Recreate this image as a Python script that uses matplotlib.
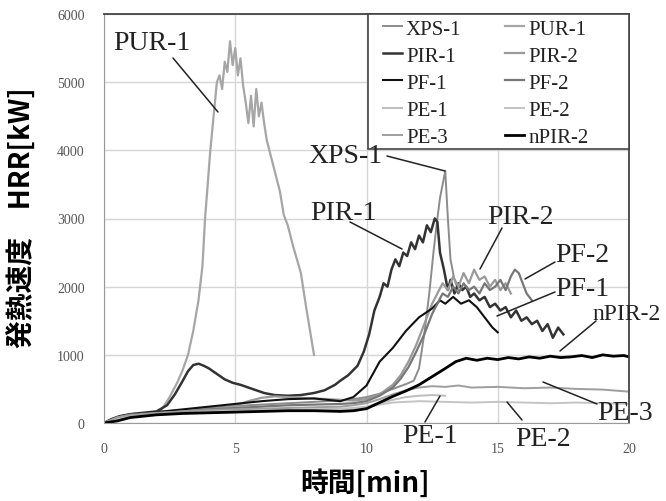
import numpy as np
import matplotlib
matplotlib.use('Agg')
import matplotlib.pyplot as plt
from matplotlib import rcParams
from matplotlib.patches import Rectangle

rcParams['font.family'] = ['Liberation Serif', 'DejaVu Serif']

# Heat release rate curves (time [min], HRR [kW])
xps1_t = [0, 0.5, 1, 2, 3, 4, 5, 6, 7, 8, 9, 9.5, 10, 10.5, 11, 11.5, 11.8, 12.0, 12.2,
          12.4, 12.55, 12.7, 12.8, 12.9, 13.0, 13.1, 13.2, 13.35, 13.5]
xps1_v = [0, 90, 130, 160, 190, 220, 250, 270, 290, 310, 330, 350, 380, 430, 500, 570, 620,
          800, 1300, 1930, 2500, 3000, 3300, 3500, 3700, 3000, 2400, 2100, 1950]

pur1_t = [0, 0.5, 1, 1.5, 2, 2.2, 2.5, 2.8, 3.0, 3.2, 3.4, 3.6, 3.75, 3.85, 3.95, 4.05, 4.15,
          4.3, 4.4, 4.5, 4.6, 4.7, 4.8, 4.9, 5.0, 5.1, 5.2, 5.3, 5.4, 5.5, 5.6, 5.7, 5.8, 5.9,
          6.0, 6.1, 6.2, 6.3, 6.5, 6.7, 6.85, 7.0, 7.2, 7.35, 7.5, 7.7, 7.85, 8.0]
pur1_v = [0, 70, 110, 130, 150, 200, 380, 600, 780, 1000, 1350, 1800, 2300, 3000, 3500, 4000,
          4400, 5000, 5100, 4900, 5300, 5150, 5600, 5250, 5500, 5100, 5350, 4950, 4700, 4400,
          4800, 4350, 4900, 4500, 4700, 4400, 4150, 4000, 3700, 3400, 3050, 2900, 2600, 2400,
          2200, 1700, 1350, 1000]

pir1_t = [0, 0.3, 0.6, 1.0, 1.5, 2.0, 2.4, 2.7, 3.0, 3.2, 3.4, 3.6, 3.8, 4.0, 4.3, 4.6, 4.9,
          5.2, 5.5, 5.8, 6.1, 6.5, 7.0, 7.5, 8.0, 8.4, 8.8, 9.0, 9.3, 9.66, 9.9, 10.1, 10.3,
          10.5, 10.65, 10.8, 10.95, 11.1, 11.25, 11.4, 11.55, 11.7, 11.85, 12.0, 12.15, 12.3,
          12.45, 12.6, 12.7, 12.8, 12.95, 13.1, 13.2, 13.35, 13.5, 13.65, 13.8, 13.95, 14.1,
          14.3, 14.5, 14.7, 14.9, 15.1, 15.3, 15.5, 15.7, 15.9, 16.1, 16.3, 16.5, 16.7, 16.9,
          17.1, 17.3, 17.5]
pir1_v = [0, 60, 100, 130, 150, 170, 260, 420, 620, 760, 850, 870, 840, 800, 720, 640, 590,
          560, 520, 480, 440, 410, 400, 410, 440, 480, 560, 620, 700, 840, 1050, 1300, 1650,
          1850, 2050, 2000, 2250, 2400, 2300, 2500, 2450, 2650, 2550, 2750, 2650, 2900, 2800,
          3000, 2950, 2500, 2250, 1950, 2100, 1900, 2050, 1950, 2000, 1850, 1900, 1800, 1850,
          1700, 1750, 1650, 1700, 1550, 1650, 1500, 1550, 1450, 1500, 1350, 1450, 1250, 1400,
          1300]

pir2_t = [0, 0.5, 1, 2, 3, 4, 4.5, 5, 5.5, 6, 6.5, 7, 8, 9, 9.5, 10, 10.5, 11, 11.3, 11.6,
          11.9, 12.2, 12.5, 12.7, 12.9, 13.1, 13.3, 13.5, 13.7, 13.9, 14.1, 14.3, 14.5, 14.7,
          14.9, 15.1, 15.3, 15.5]
pir2_v = [0, 80, 120, 150, 180, 200, 220, 260, 320, 370, 390, 380, 360, 340, 330, 350, 420,
          560, 700, 900, 1150, 1450, 1750, 1900, 2050, 1950, 2150, 2000, 2200, 2050, 2250,
          2100, 2150, 2000, 2100, 1950, 2050, 1900]

pf1_t = [0, 0.5, 1, 2, 3, 4, 5, 6, 7, 8, 9, 9.5, 10, 10.5, 11, 11.5, 12, 12.5, 12.8, 13.0,
         13.3, 13.6, 13.9, 14.2, 14.5, 14.8, 15.0]
pf1_v = [0, 70, 120, 160, 200, 240, 280, 320, 350, 360, 320, 380, 550, 900, 1100, 1350, 1550,
         1680, 1800, 1750, 1850, 1750, 1800, 1700, 1550, 1400, 1330]

pf2_t = [0, 0.5, 1, 2, 3, 4, 5, 6, 7, 8, 9, 9.5, 10, 10.5, 11, 11.3, 11.6, 11.9, 12.2, 12.5,
         12.7, 12.9, 13.1, 13.3, 13.5, 13.7, 13.9, 14.1, 14.3, 14.5, 14.7, 14.9, 15.1, 15.3,
         15.5, 15.65, 15.8, 15.95, 16.1, 16.3]
pf2_v = [0, 60, 100, 140, 170, 200, 220, 240, 260, 270, 280, 290, 320, 400, 520, 650, 820,
         1050, 1300, 1600, 1750, 1900, 1850, 2000, 1900, 2050, 1950, 2000, 1900, 2050, 1950,
         2000, 2100, 1950, 2150, 2250, 2200, 2050, 1900, 1800]

pe1_t = [0, 0.5, 1, 2, 3, 4, 5, 6, 7, 8, 9, 9.5, 10, 10.5, 11, 11.5, 12, 12.5, 13.0]
pe1_v = [0, 70, 110, 130, 150, 160, 170, 180, 190, 200, 210, 220, 240, 290, 340, 380, 400,
         410, 400]

pe2_t = [0, 0.5, 1, 2, 3, 4, 5, 6, 7, 8, 9, 9.5, 10, 10.5, 11, 11.5, 12, 13, 14, 15, 16, 17,
         18, 19, 20]
pe2_v = [0, 60, 100, 120, 140, 150, 160, 170, 180, 190, 200, 210, 230, 270, 300, 310, 320,
         310, 300, 310, 300, 290, 300, 290, 280]

pe3_t = [0, 0.5, 1, 2, 3, 4, 5, 6, 7, 8, 9, 9.5, 10, 10.5, 11, 11.5, 12, 12.5, 13, 13.5, 14,
         15, 16, 17, 18, 19, 20]
pe3_v = [0, 80, 120, 150, 170, 190, 200, 210, 220, 230, 240, 260, 290, 350, 420, 480, 520, 540,
         530, 550, 520, 530, 510, 520, 500, 490, 460]

npir2_t = [0, 0.5, 1, 2, 3, 4, 5, 6, 7, 8, 9, 9.5, 10, 10.5, 11, 11.5, 12, 12.5, 13, 13.4,
           13.8, 14.2, 14.6, 15.0, 15.4, 15.8, 16.2, 16.6, 17.0, 17.4, 17.8, 18.2, 18.6, 19.0,
           19.4, 19.8, 20]
npir2_v = [0, 30, 80, 120, 140, 150, 160, 170, 180, 180, 170, 180, 210, 300, 390, 470, 560,
           680, 800, 900, 950, 920, 950, 930, 960, 940, 970, 950, 980, 960, 970, 990, 960,
           1000, 980, 990, 970]

W, H = 666, 502
fig = plt.figure(figsize=(W / 100, H / 100), dpi=100)
ax = fig.add_axes([104/W, 1 - 424/H, 525/W, 409/H])

series = {
    'XPS-1': (xps1_t, xps1_v, '#8c8c8c', 1.4),
    'PUR-1': (pur1_t, pur1_v, '#a6a6a6', 1.6),
    'PIR-1': (pir1_t, pir1_v, '#333333', 1.8),
    'PIR-2': (pir2_t, pir2_v, '#9a9a9a', 1.6),
    'PF-1': (pf1_t, pf1_v, '#111111', 1.5),
    'PF-2': (pf2_t, pf2_v, '#777777', 1.6),
    'PE-1': (pe1_t, pe1_v, '#bdbdbd', 1.4),
    'PE-2': (pe2_t, pe2_v, '#c4c4c4', 1.4),
    'PE-3': (pe3_t, pe3_v, '#9e9e9e', 1.4),
    'nPIR-2': (npir2_t, npir2_v, '#000000', 2.0),
}
lines = {}
for name, (t, v, c, lw) in series.items():
    lines[name], = ax.plot(t, v, color=c, lw=lw, label=name)

ax.set_xlim(0, 20)
ax.set_ylim(0, 6000)
ax.set_xticks([0, 5, 10, 15, 20])
ax.set_yticks(range(0, 6001, 1000))
ax.grid(True, color='#d6d6d6', lw=1.0)
ax.set_axisbelow(True)
ax.tick_params(length=0, pad=14, labelsize=10, colors='#555555')
for s in ['left', 'bottom']:
    ax.spines[s].set_color('#9a9a9a')
for s in ['top', 'right']:
    ax.spines[s].set_color('#444444')
    ax.spines[s].set_linewidth(1.3)

# legend box drawn separately so the padding can match
box = Rectangle((368/W, 1 - 150/H), (629 - 368)/W, (150 - 15)/H, transform=fig.transFigure,
                facecolor='white', edgecolor='#444444', lw=1.2, zorder=4, clip_on=False)
ax.add_patch(box)
order = ['XPS-1', 'PIR-1', 'PF-1', 'PE-1', 'PE-3', 'PUR-1', 'PIR-2', 'PF-2', 'PE-2', 'nPIR-2']
leg = ax.legend([lines[k] for k in order], order, ncol=2, loc='upper left',
                bbox_to_anchor=(383/W, 1 - 20/H), bbox_transform=fig.transFigure,
                fontsize=15, frameon=False, handlelength=0.9, handletextpad=0.2,
                columnspacing=2.1, labelspacing=0.36, borderpad=0, borderaxespad=0)
leg.set_zorder(5)
for txt in leg.get_texts():
    txt.set_color('#222222')

# callout labels with leader lines (figure pixel positions)
labels = [
    ('PUR-1', (113, 43), (173, 59), (218, 113)),
    ('XPS-1', (308, 157), (387, 157), (445, 172)),
    ('PIR-1', (310, 214), (350, 223), (402, 250)),
    ('PIR-2', (487, 218), (502, 229), (480, 270)),
    ('PF-2', (555, 255), (555, 263), (525, 280)),
    ('PF-1', (555, 290), (555, 293), (497, 317)),
    ('PE-3', (597, 413), (597, 405), (543, 383)),
    ('PE-1', (402, 437), (425, 423), (440, 397)),
    ('PE-2', (515, 440), (522, 421), (507, 403)),
    ('nPIR-2', (592, 315), (596, 322), (560, 352)),
]
for name, (tx, ty), (sx, sy), (ex, ey) in labels:
    fs = 17 if name == 'nPIR-2' else 20
    fig.text(tx / W, 1 - ty / H, name, fontsize=fs, color='#222222',
             ha='left', va='center')
    ax.annotate('', xy=(ex, H - ey), xycoords='figure pixels',
                xytext=(sx, H - sy), textcoords='figure pixels',
                arrowprops=dict(arrowstyle='-', color='#222222', lw=1.1,
                                shrinkA=0, shrinkB=0))

fig.text(22/W, 1 - 218/H, '発熱速度\u3000HRR[kW]', rotation=90, ha='center', va='center',
         fontsize=20, fontweight='bold', family=['Noto Sans CJK JP', 'DejaVu Sans'])
fig.text(365/W, 1 - 483/H, '時間[min]', ha='center', va='center',
         fontsize=20, fontweight='bold', family=['Noto Sans CJK JP', 'DejaVu Sans'])

fig.savefig('out.png', dpi=100)
